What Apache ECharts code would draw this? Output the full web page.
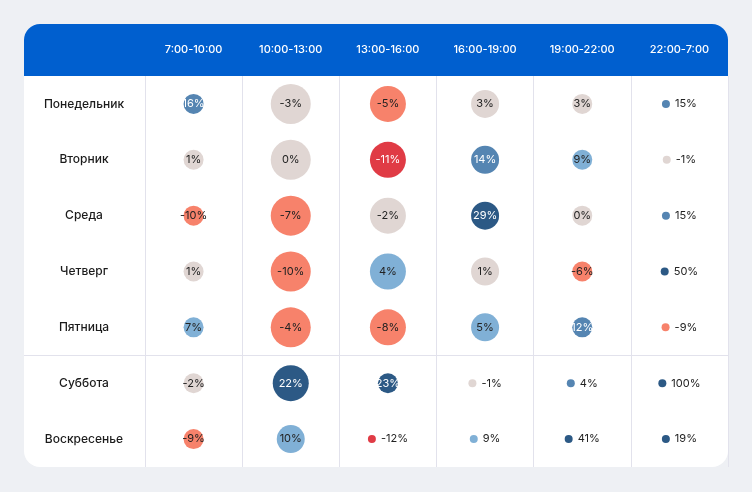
<!DOCTYPE html>
<html><head><meta charset="utf-8">
<script src="https://cdn.jsdelivr.net/npm/echarts@6/dist/echarts.min.js"></script>
<style>html,body{margin:0;padding:0;background:#eef0f4;}#c{width:752px;height:492px;}</style>
</head><body><div id="c"></div>
<script>
var days = ['Понедельник','Вторник','Среда','Четверг','Пятница','Суббота','Воскресенье'];
var slots = ['7:00-10:00','10:00-13:00','13:00-16:00','16:00-19:00','19:00-22:00','22:00-7:00'];
// change, %
var change = [
  [16,-3,-5,3,3,15],
  [1,0,-11,14,9,-1],
  [-10,-7,-2,29,0,15],
  [1,-10,4,1,-6,50],
  [7,-4,-8,5,12,-9],
  [-2,22,23,-1,4,100],
  [-9,10,-12,9,41,19]
];
// relative volume (bubble area)
var volume = [
  [25,100,81,49,25,4],
  [25,100,81,49,25,4],
  [25,100,81,49,25,4],
  [25,100,81,49,25,4],
  [25,100,81,49,25,4],
  [25,81,25,4,4,4],
  [25,49,4,4,4,4]
];
// tone class: -2 strong drop, -1 drop, 0 flat, 1 growth, 2 strong growth, 3 very strong growth
var tone = [
  [2,0,-1,0,0,2],
  [0,0,-2,2,1,0],
  [-1,-1,0,3,0,2],
  [0,-1,1,0,-1,3],
  [1,-1,-1,1,2,-1],
  [0,3,3,0,2,3],
  [-1,1,-2,1,3,3]
];

var FONT = 'Inter, "Noto Sans", sans-serif';
var palette = {'-2':'#e03b45','-1':'#f7826b','0':'#e0d6d3','1':'#80b0d6','2':'#5585b2','3':'#2c5985'};
var whiteText = {'-2':true,'2':true,'3':true};
var cv = document.createElement('canvas').getContext('2d');
cv.font = '11px ' + FONT;

var data = [];
for (var r = 0; r < days.length; r++) {
  for (var c = 0; c < slots.length; c++) {
    var v = change[r][c], t = tone[r][c];
    var size = 4 * Math.sqrt(volume[r][c]);
    var txt = v + '%';
    var item = {value: [c, r, v], symbolSize: size, itemStyle: {color: palette[t], opacity: 1}};
    if (size < 14) {
      var w = cv.measureText(txt).width;
      item.symbolOffset = [-(5 + w) / 2, 0];
      item.label = {position: 'right', distance: 5, color: '#222222'};
    } else {
      item.label = {position: 'inside', color: whiteText[t] ? '#ffffff' : '#222222'};
    }
    data.push(item);
  }
}

var chart = echarts.init(document.getElementById('c'));
chart.setOption({
  backgroundColor: '#eef0f4',
  textStyle: {fontFamily: FONT},
  grid: {left: 145, right: 24, top: 76, bottom: 25},
  xAxis: {
    type: 'category', data: slots, position: 'top',
    axisLine: {show: false}, axisTick: {show: false},
    axisLabel: {color: '#ffffff', fontSize: 11, fontWeight: 500, margin: 21, fontFamily: FONT},
    splitLine: {show: true, lineStyle: {color: '#e2e2ec', width: 1}}
  },
  yAxis: {
    type: 'category', data: days, inverse: true,
    axisLine: {show: false}, axisTick: {show: false},
    axisLabel: {color: '#1b1b1b', fontSize: 12, fontWeight: 500, margin: 61, align: 'center', fontFamily: FONT},
    splitLine: {show: false}
  },
  graphic: [
    {type: 'rect', z: -10, shape: {x: 24, y: 24, width: 704, height: 443, r: 16}, style: {fill: '#ffffff'}},
    {type: 'rect', z: -9, shape: {x: 24, y: 24, width: 704, height: 52, r: [16, 16, 0, 0]}, style: {fill: '#005fcf'}}
  ],
  series: [{
    type: 'scatter',
    data: data,
    itemStyle: {opacity: 1},
    label: {show: true, fontSize: 11, fontFamily: FONT, formatter: function (p) { return p.value[2] + '%'; }},
    emphasis: {disabled: true}
  }]
});
var y4 = chart.convertToPixel({yAxisIndex: 0}, days[4]);
var y5 = chart.convertToPixel({yAxisIndex: 0}, days[5]);
var yb = Math.round((y4 + y5) / 2) + 0.5;
chart.setOption({graphic: [
  {type: 'rect', z: -10, shape: {x: 24, y: 24, width: 704, height: 443, r: 16}, style: {fill: '#ffffff'}},
  {type: 'rect', z: -9, shape: {x: 24, y: 24, width: 704, height: 52, r: [16, 16, 0, 0]}, style: {fill: '#005fcf'}},
  {type: 'line', z: -8, shape: {x1: 24, y1: yb, x2: 728, y2: yb}, style: {stroke: '#e2e2ec', lineWidth: 1}}
]});
</script>
</body></html>
